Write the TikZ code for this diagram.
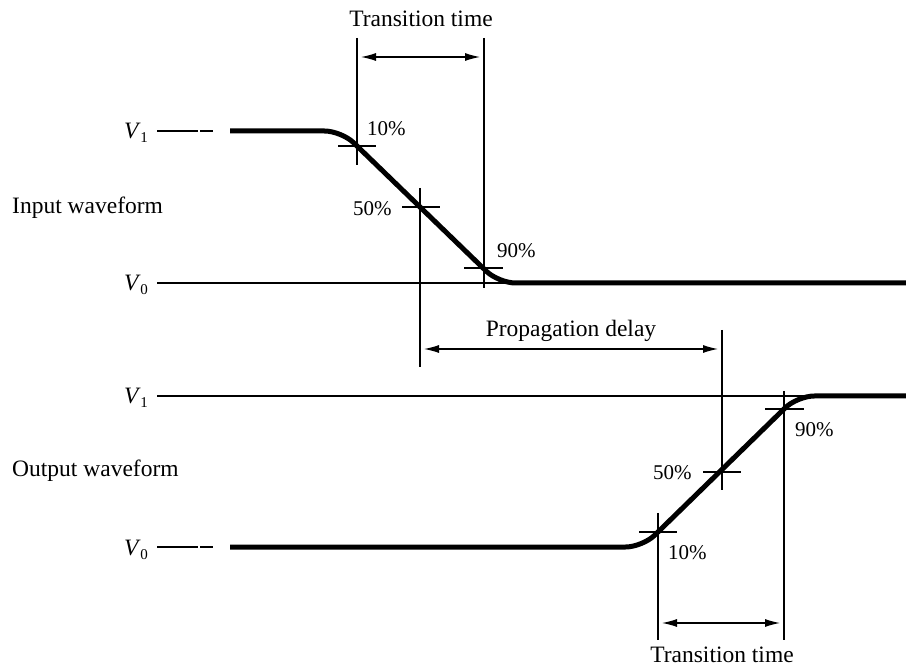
\documentclass[tikz,border=0pt]{standalone}
\usepackage{fontspec}
\setmainfont{Liberation Serif}
\usetikzlibrary{arrows.meta}

\newcommand{\vlev}[1]{\textit{V}\kern-0.5pt\raisebox{-4pt}{\fontsize{15}{15}\selectfont #1}}

\tikzset{
  wave/.style={line width=5pt, line join=round, rounded corners=17pt},
  thin/.style={line width=1.2pt},
  levelline/.style={line width=1.2pt, dash pattern=on 41pt off 2pt on 14pt off 30pt},
  dimarrow/.style={line width=1.2pt, {Latex[length=15pt,width=8pt]}-{Latex[length=15pt,width=8pt]}},
  bigtext/.style={inner sep=0pt, font=\fontsize{23.5}{28}\selectfont},
  pct/.style={inner sep=0pt, anchor=base west, font=\fontsize{21}{25}\selectfont},
  lvl/.style={inner sep=0pt, anchor=base east, font=\fontsize{23.5}{28}\selectfont},
}

\begin{document}
\begin{tikzpicture}[x=1pt, y=-1pt]
\useasboundingbox (0,0) rectangle (906,668);

% ---------- input waveform (falling edge) ----------
\node[bigtext, anchor=base west] (inlabel) at (12,214) {Input waveform};
\node[lvl] (inV1) at (148,139) {\vlev{1}};
\node[lvl] (inV0) at (148,291) {\vlev{0}};
\draw[levelline] (157,131) -- (213,131);
\draw[thin] (157,283) -- (508,283);
\draw[wave] (230,131) -- (341.5,131) -- (498.5,283) -- (906,283);

% level crossings and their markers
\coordinate (i10) at (357,146);
\coordinate (i50) at (420,207);
\coordinate (i90) at (484,268);
\draw[thin] (338,146) -- (376,146);
\draw[thin] (402,207) -- (440,207);
\draw[thin] (464,268) -- (503,268);
\draw[thin] (357,38) -- (357,165);
\draw[thin] (420,188) -- (420,367);
\draw[thin] (484,38) -- (484,288);
\node[pct] (ip10) at (367,136) {10\%};
\node[pct] (ip50) at (353,216) {50\%};
\node[pct] (ip90) at (497,258) {90\%};

% transition time of the input
\coordinate (itA) at (357,57);
\coordinate (itB) at (484,57);
\draw[dimarrow] ([xshift=4pt]itA) -- ([xshift=-4pt]itB);
\node[bigtext, anchor=base] (ittext) at (421,27) {Transition time};

% ---------- propagation delay ----------
\coordinate (pdA) at (420,349);
\coordinate (pdB) at (722,349);
\draw[dimarrow] ([xshift=4pt]pdA) -- ([xshift=-4pt]pdB);
\node[bigtext, anchor=base] (pdtext) at (571,337) {Propagation delay};

% ---------- output waveform (rising edge) ----------
\node[bigtext, anchor=base west] (outlabel) at (12,477) {Output waveform};
\node[lvl] (outV1) at (148,404) {\vlev{1}};
\node[lvl] (outV0) at (148,555) {\vlev{0}};
\draw[thin] (157,396) -- (812,396);
\draw[levelline] (157,547) -- (213,547);
\draw[wave] (230,547) -- (642.6,547) -- (797.3,396) -- (906,396);

\coordinate (o10) at (658,532);
\coordinate (o50) at (722,472);
\coordinate (o90) at (784,409);
\draw[thin] (639,532) -- (677,532);
\draw[thin] (703,472) -- (741,472);
\draw[thin] (765,409) -- (804,409);
\draw[thin] (658,513) -- (658,640);
\draw[thin] (722,330) -- (722,490);
\draw[thin] (784,391) -- (784,640);
\node[pct] (op50) at (653,480) {50\%};
\node[pct] (op10) at (668,559) {10\%};
\node[pct] (op90) at (795,437) {90\%};

% transition time of the output
\coordinate (otA) at (658,623);
\coordinate (otB) at (784,623);
\draw[dimarrow] ([xshift=4pt]otA) -- ([xshift=-4pt]otB);
\node[bigtext, anchor=base] (ottext) at (722,662) {Transition time};
\end{tikzpicture}
\end{document}
